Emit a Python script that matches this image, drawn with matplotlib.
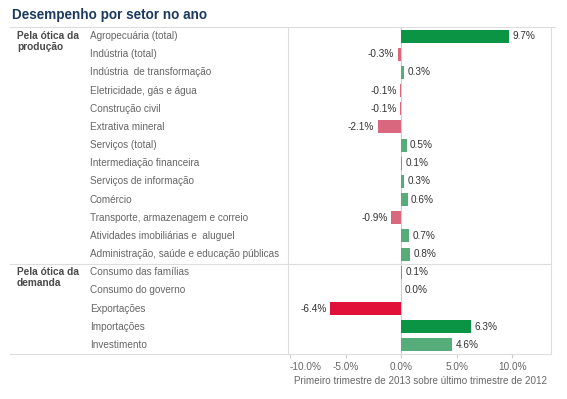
import matplotlib
matplotlib.use("Agg")
import matplotlib.pyplot as plt
from matplotlib.lines import Line2D
from matplotlib.transforms import blended_transform_factory

plt.rcParams['font.family'] = ['Liberation Sans', 'DejaVu Sans']

setores = [
    "Agropecuária (total)",
    "Indústria (total)",
    "Indústria  de transformação",
    "Eletricidade, gás e água",
    "Construção civil",
    "Extrativa mineral",
    "Serviços (total)",
    "Intermediação financeira",
    "Serviços de informação",
    "Comércio",
    "Transporte, armazenagem e correio",
    "Atividades imobiliárias e  aluguel",
    "Administração, saúde e educação públicas",
    "Consumo das famílias",
    "Consumo do governo",
    "Exportações",
    "Importações",
    "Investimento",
]
valores = [9.7, -0.3, 0.3, -0.1, -0.1, -2.1, 0.5, 0.1, 0.3, 0.6, -0.9, 0.7, 0.8,
           0.1, 0.0, -6.4, 6.3, 4.6]
grupos = [("Pela ótica da", "produção"), ("Pela ótica da", "demanda")]
inicio_grupos = [0, 13]
ticks = [-10, -5, 0, 5, 10]
titulo = "Desempenho por setor no ano"
rotulo_x = "Primeiro trimestre de 2013 sobre último trimestre de 2012"


def cor(v):
    if v >= 6:
        return "#0b9444"
    if v > 0:
        return "#57ad79"
    if v <= -5:
        return "#e0103a"
    return "#d9687e"


W, H = 567, 399
fig = plt.figure(figsize=(W / 100, H / 100), dpi=100)

# area das barras
x0, x1, y0, y1 = 290, 551, 27, 354
ax = fig.add_axes([x0 / W, 1 - y1 / H, (x1 - x0) / W, (y1 - y0) / H])

pos = list(range(len(setores)))
ax.barh(pos, valores, height=0.72, color=[cor(v) for v in valores])
ax.axvline(0, color="#cccccc", lw=0.8, zorder=0)

for p, v in zip(pos, valores):
    if v >= 0:
        ax.text(v + 0.3, p, f"{v:.1f}%", ha="left", va="center", fontsize=7.2, color="#333333")
    else:
        ax.text(v - 0.3, p, f"{v:.1f}%", ha="right", va="center", fontsize=7.2, color="#333333")

ax.set_xlim(-10, 13.5)
ax.set_ylim(len(setores) - 0.5, -0.5)
ax.set_yticks([])
ax.set_xticks(ticks)
ax.set_xticklabels([f"{t:.1f}%" for t in ticks])
ax.tick_params(axis="x", length=3, color="#cccccc", labelsize=7.2, labelcolor="#666666", pad=3)
ax.get_xticklabels()[0].set_horizontalalignment("left")
for s in ["top", "left", "bottom"]:
    ax.spines[s].set_visible(False)
ax.spines["right"].set_color("#dddddd")
ax.spines["right"].set_linewidth(0.8)
ax.set_xlabel(rotulo_x, fontsize=7.1, color="#666666", labelpad=3)

# rotulos das linhas
tr = blended_transform_factory(fig.transFigure, ax.transData)
for p, nome in zip(pos, setores):
    ax.text(90 / W, p, nome, transform=tr, ha="left", va="center", fontsize=7.2, color="#666666")
for (l1, l2), i in zip(grupos, inicio_grupos):
    ax.text(17 / W, i, l1, transform=tr, ha="left", va="center", fontsize=7.3,
            color="#4a4a4a", fontweight="bold")
    ax.text(17 / W, i + 0.6, l2, transform=tr, ha="left", va="center", fontsize=7.3,
            color="#4a4a4a", fontweight="bold")

# linhas da tabela
def linha(xa, xb, ya, yb, c="#dddddd"):
    fig.add_artist(Line2D([xa / W, xb / W], [1 - ya / H, 1 - yb / H], color=c, lw=0.8))

linha(10, 555, y0, y0)
linha(10, x1, 264, 264)
linha(10, x1, y1, y1)
linha(288, 288, y0, y1)

fig.text(12 / W, 1 - 15 / H, titulo, ha="left", va="center", fontsize=9.75,
         fontweight="bold", color="#1b3a5e")

fig.savefig("out.png", dpi=100)
